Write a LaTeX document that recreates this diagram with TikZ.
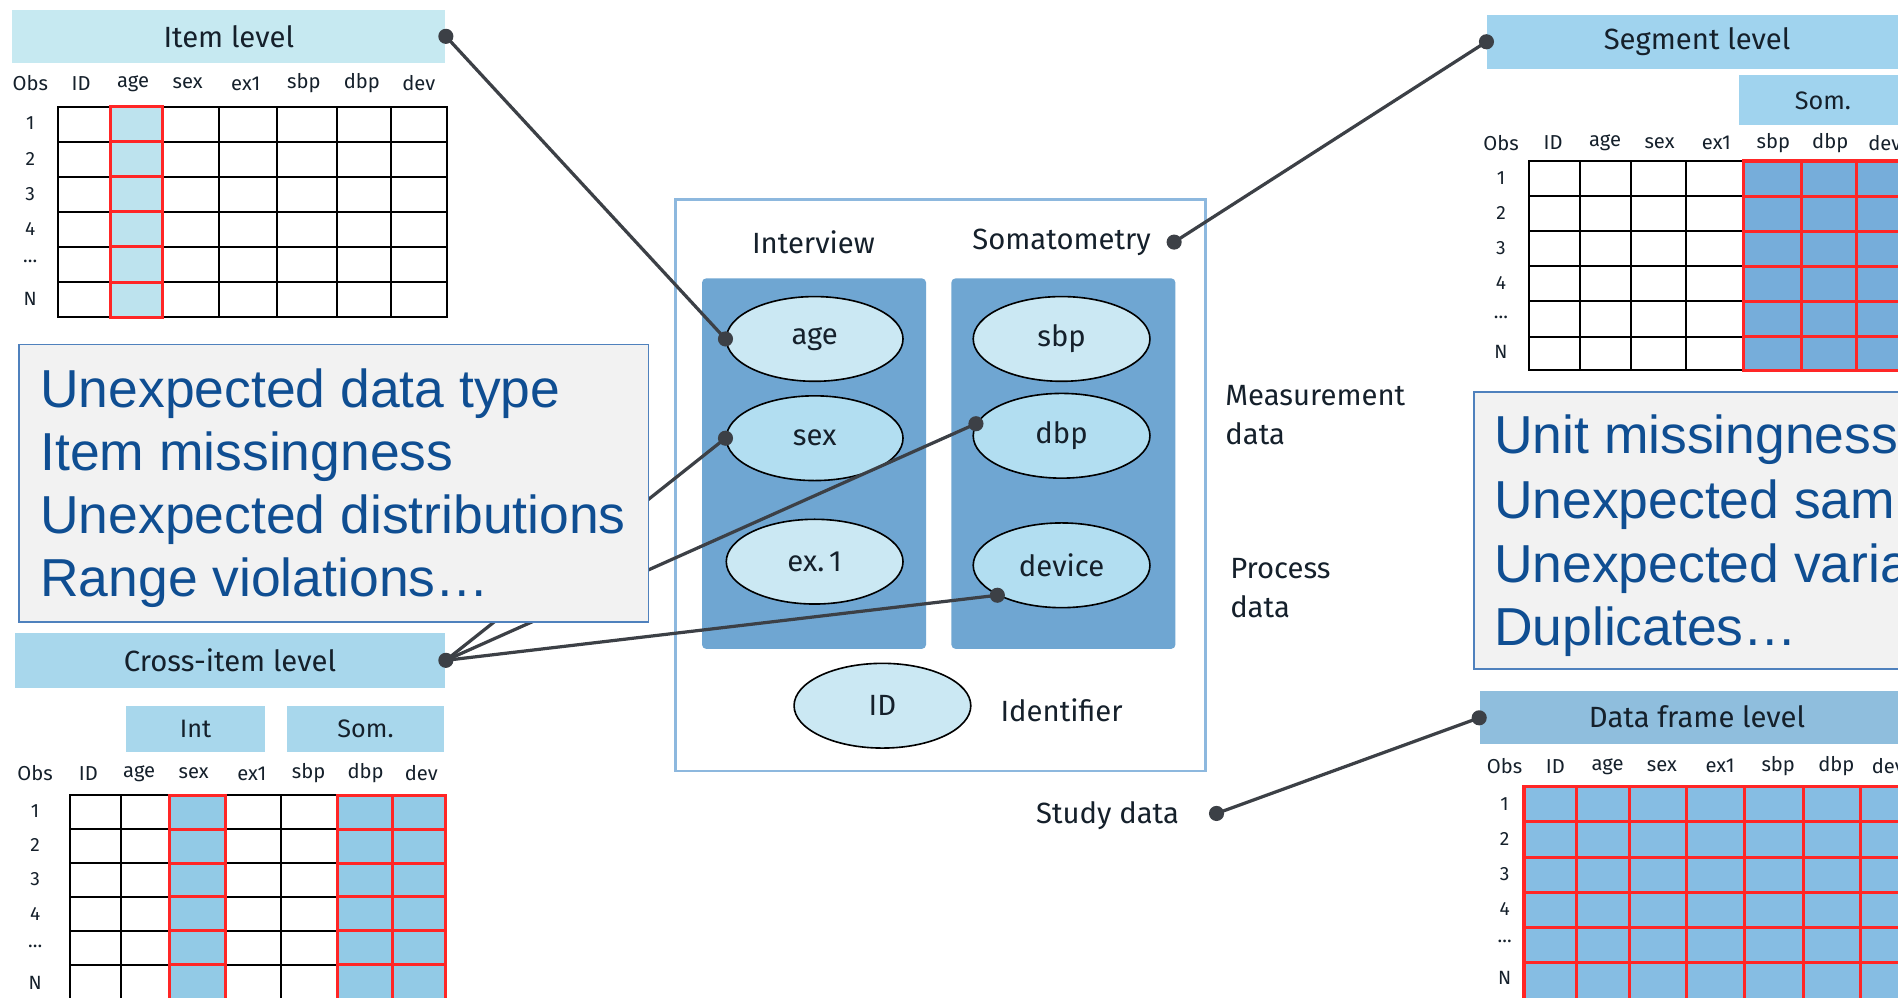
\documentclass[tikz,border=0pt]{standalone}
\usepackage{fontspec}
\setmainfont{Fira Sans}
\newfontfamily\boxfont{Liberation Sans}
\usetikzlibrary{shapes.geometric}

\definecolor{ink}{HTML}{15202B}
\definecolor{linkgray}{HTML}{3C4046}
\definecolor{itemband}{HTML}{C6E9F1}
\definecolor{itemhi}{HTML}{BDE3EE}
\definecolor{crossband}{HTML}{A8D7EC}
\definecolor{crosshi}{HTML}{92CAE6}
\definecolor{segband}{HTML}{A0D3EE}
\definecolor{seghi}{HTML}{76ADDA}
\definecolor{dfband}{HTML}{8FBEDD}
\definecolor{dfhi}{HTML}{86BDE3}
\definecolor{panelblue}{HTML}{6FA6D2}
\definecolor{ellpale}{HTML}{CBE8F3}
\definecolor{ellcyan}{HTML}{B2DEF1}
\definecolor{framecol}{HTML}{8DB8DE}
\definecolor{noteborder}{HTML}{4F81BD}
\definecolor{notefill}{HTML}{F2F2F2}
\definecolor{notetext}{HTML}{0F4E92}
\definecolor{cellred}{HTML}{FF2626}

\newcommand{\rowdots}{\ldots}

\begin{document}
\begin{tikzpicture}[x=0.6pt,y=-0.6pt,
  sizebox/.style 2 args={rectangle,inner sep=0pt,minimum width=#1*0.6pt,minimum height=#2*0.6pt},
  bandlabel/.style={text=ink,font=\fontsize{14.5}{17}\selectfont},
  hdr/.style={text=ink,font=\fontsize{10}{12}\selectfont,inner sep=0pt},
  rowlab/.style={text=ink,font=\fontsize{9.5}{11}\selectfont,inner sep=0pt},
  gridln/.style={draw=black,line width=1pt},
  hiln/.style={draw=cellred,line width=1.5pt},
  lbl/.style={text=ink,font=\fontsize{14.5}{17}\selectfont,inner sep=0pt},
  var/.style={ellipse,draw=black,line width=0.8pt,inner sep=0pt,
    minimum width=146*0.6pt,minimum height=70*0.6pt,text=ink,
    font=\fontsize{14.5}{17}\selectfont},
  panel/.style={fill=panelblue,rounded corners=2pt},
  link/.style={draw=linkgray,line width=1.6pt},
  dot/.style={circle,fill=linkgray,inner sep=0pt,minimum size=7.5pt},
  note/.style={draw=noteborder,fill=notefill,line width=0.8pt,anchor=north west},
  notetxt/.style={text=notetext,anchor=base west,inner sep=0pt,
    font=\boxfont\fontsize{26.5}{30}\selectfont}]

\clip (0,0) rectangle (1568,824);
\fill[white] (0,0) rectangle (1568,824);

% ---------------- Item level ----------------
\node[sizebox={358}{44},fill=itemband,bandlabel] (itemband) at (189,30) {Item level};
\foreach \t/\x [count=\k] in {Obs/25,ID/67,age/110,sex/155,ex1/203,sbp/251,dbp/299,dev/346}
  \node[hdr] (ih\k) at (\x,69) {\t};
\foreach \t/\y [count=\k] in {1/102,2/131,3/160,4/189,\rowdots/216,N/247}
  \node[rowlab] (ir\k) at (25,\y) {\t};
\foreach \xa/\xb in {48/91,91/134,134/181,181/229,229/278,278/323,323/369}
  \foreach \ya/\yb in {88/117,117/146,146/175,175/204,204/233,233/262}
    \draw[gridln] (\xa,\ya) rectangle (\xb,\yb);
\foreach \ya/\yb in {88/117,117/146,146/175,175/204,204/233,233/262}
  \draw[hiln,fill=itemhi] (91,\ya) rectangle (134,\yb);

% ---------------- Cross-item level ----------------
\node[sizebox={356}{45},fill=crossband,bandlabel] (crossband) at (190,545.5) {Cross-item level};
\node[sizebox={115}{38},fill=crossband,bandlabel,font=\fontsize{12.5}{15}\selectfont] (crossint) at (161.5,602) {Int};
\node[sizebox={130}{38},fill=crossband,bandlabel,font=\fontsize{12.5}{15}\selectfont] (crosssom) at (302,602) {Som.};
\foreach \t/\x [count=\k] in {Obs/29,ID/73,age/115,sex/160,ex1/208,sbp/255,dbp/302,dev/348}
  \node[hdr] (ch\k) at (\x,639) {\t};
\foreach \t/\y [count=\k] in {1/670,2/698,3/726,4/755,\rowdots/782,N/812}
  \node[rowlab] (cr\k) at (29,\y) {\t};
\foreach \xa/\xb in {58/100,100/140,140/186,186/232,232/279,279/324,324/368}
  \foreach \ya/\yb in {657/685,685/713,713/741,741/769,769/797,797/826}
    \draw[gridln] (\xa,\ya) rectangle (\xb,\yb);
\foreach \xa/\xb in {140/186,279/324,324/368}
  \foreach \ya/\yb in {657/685,685/713,713/741,741/769,769/797,797/826}
    \draw[hiln,fill=crosshi] (\xa,\ya) rectangle (\xb,\yb);

% ---------------- Segment level ----------------
\node[sizebox={352}{45},fill=segband,anchor=west] (segband) at (1228,34.5) {};
\node[bandlabel] (seglabel) at (1402,34) {Segment level};
\node[sizebox={144}{41},fill=segband,anchor=west] (segsom) at (1436,82.5) {};
\node[bandlabel,font=\fontsize{12.5}{15}\selectfont] (segsomlabel) at (1506,83) {Som.};
\foreach \t/\x [count=\k] in {Obs/1240,ID/1283,age/1326,sex/1371,ex1/1418,sbp/1465,dbp/1512,dev/1557}
  \node[hdr] (sh\k) at (\x,118) {\t};
\foreach \t/\y [count=\k] in {1/147,2/176,3/205,4/234,\rowdots/262,N/291}
  \node[rowlab] (sr\k) at (1240,\y) {\t};
\foreach \xa/\xb in {1263/1305,1305/1347,1347/1393,1393/1440,1440/1488,1488/1534,1534/1580}
  \foreach \ya/\yb in {133/162,162/191,191/220,220/249,249/278,278/306}
    \draw[gridln] (\xa,\ya) rectangle (\xb,\yb);
\foreach \xa/\xb in {1440/1488,1488/1534,1534/1580}
  \foreach \ya/\yb in {133/162,162/191,191/220,220/249,249/278,278/306}
    \draw[hiln,fill=seghi] (\xa,\ya) rectangle (\xb,\yb);

% ---------------- Data frame level ----------------
\node[sizebox={360}{44},fill=dfband,anchor=west] (dfband) at (1222,593) {};
\node[bandlabel] (dflabel) at (1402,592) {Data frame level};
\foreach \t/\x [count=\k] in {Obs/1243,ID/1285,age/1328,sex/1373,ex1/1421,sbp/1469,dbp/1517,dev/1560}
  \node[hdr] (dh\k) at (\x,633) {\t};
\foreach \t/\y [count=\k] in {1/664,2/693,3/722,4/751,\rowdots/778,N/808}
  \node[rowlab] (dr\k) at (1243,\y) {\t};
\foreach \xa/\xb in {1259/1302,1302/1346,1346/1393,1393/1441,1441/1490,1490/1537,1537/1583}
  \foreach \ya/\yb in {650/679,679/708,708/737,737/766,766/795,795/826}
    \draw[hiln,fill=dfhi] (\xa,\ya) rectangle (\xb,\yb);

% ---------------- Study data structure ----------------
\draw[draw=framecol,line width=1.3pt] (558,165) rectangle (996,637);
\node[lbl] (interview) at (672,200) {Interview};
\node[lbl] (somato) at (877,200) {Somatometry};
\fill[panel] (580,230) rectangle (765,536);
\fill[panel] (786,230) rectangle (971,536);
\node[var,fill=ellpale] (age) at (673,280) {age};
\node[var,fill=ellcyan] (sex) at (673,362) {sex};
\node[var,fill=ellpale] (ex1) at (673,464) {ex.\,1};
\node[var,fill=ellpale] (sbp) at (877,280) {sbp};
\node[var,fill=ellcyan] (dbp) at (877,360) {dbp};
\node[var,fill=ellcyan] (device) at (877,467) {device};
\node[var,fill=ellpale] (id) at (729,583) {ID};
\node[lbl] (identifier) at (877,587) {Identifier};
\node[lbl,anchor=west,align=left,font=\fontsize{14.5}{19.2}\selectfont] (measure) at (1012,343) {Measurement\\data};
\node[lbl,anchor=west,align=left,font=\fontsize{14.5}{19.2}\selectfont] (process) at (1016,486) {Process\\data};
\node[lbl] (study) at (915,674) {Study data};

% connector end points
\coordinate (somdot) at (970,200);
\coordinate (studydot) at (1005,672);

% ---------------- connectors ----------------
\draw[link] (itemband.east) -- (age.west);
\draw[link] (crossband.east) -- (sex.west);
\draw[link] (crossband.east) -- (dbp.172);
\draw[link] (crossband.east) -- (device.205);
\draw[link] (somdot) -- (segband.west);
\draw[link] (studydot) -- (dfband.west);

% ---------------- finding boxes ----------------
\node[note,sizebox={520}{229},anchor=north west] (leftnote) at (15,284) {};
\node[notetxt] (lt1) at (33,337) {Unexpected data type};
\node[notetxt] (lt2) at (33,389) {Item missingness};
\node[notetxt] (lt3) at (33,441) {Unexpected distributions};
\node[notetxt] (lt4) at (33,493) {Range violations…};

\node[note,sizebox={380}{229},anchor=north west] (rightnote) at (1217,323) {};
\node[notetxt] (rt1) at (1234,375) {Unit missingness};
\node[notetxt] (rt2) at (1234,428) {Unexpected sample size};
\node[notetxt] (rt3) at (1234,481) {Unexpected variables};
\node[notetxt] (rt4) at (1234,533) {Duplicates…};

% ---------------- connector dots ----------------
\node[dot] (d1) at (itemband.east) {};
\node[dot] (d2) at (crossband.east) {};
\node[dot] (d3) at (age.west) {};
\node[dot] (d4) at (sex.west) {};
\node[dot] (d5) at (dbp.172) {};
\node[dot] (d6) at (device.205) {};
\node[dot] (d7) at (somdot) {};
\node[dot] (d8) at (segband.west) {};
\node[dot] (d9) at (studydot) {};
\node[dot] (d10) at (dfband.west) {};
\end{tikzpicture}
\end{document}
